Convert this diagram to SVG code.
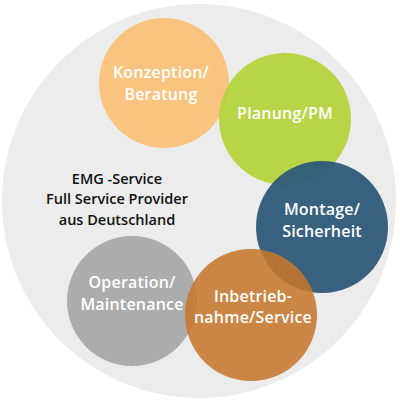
<svg xmlns="http://www.w3.org/2000/svg" width="400" height="400" viewBox="0 0 400 400">
<style>
.w{font-family:"Open Sans","Liberation Sans",sans-serif;font-weight:600;font-size:16px;fill:#fff;text-anchor:middle;letter-spacing:0.2px}
.b{font-family:"Open Sans","Liberation Sans",sans-serif;font-weight:600;font-size:14.5px;fill:#111;text-anchor:middle}
</style>
<rect width="400" height="400" fill="#fff"/>
<circle cx="199" cy="201" r="197" fill="#ececec"/>
<g id="center"><text class="b" x="117" y="184">EMG -Service</text><text class="b" x="117" y="204">Full Service Provider</text><text class="b" x="117" y="225">aus Deutschland</text></g>
<g id="konzeption"><circle cx="164" cy="83" r="65" fill="#f9c27a" opacity="0.95"/><text class="w" x="161" y="78">Konzeption/</text><text class="w" x="161" y="100">Beratung</text></g>
<g id="planung"><circle cx="285" cy="119" r="66" fill="#b3d335" opacity="0.9"/><text class="w" x="285" y="119">Planung/PM</text></g>
<g id="montage"><circle cx="322" cy="227" r="66" fill="#2d5a79" opacity="0.95"/><text class="w" x="322" y="215">Montage/</text><text class="w" x="322" y="237">Sicherheit</text></g>
<g id="operation"><circle cx="132" cy="301" r="65" fill="#a9a9a9" opacity="0.95"/><text class="w" x="132" y="288">Operation/</text><text class="w" x="132" y="310">Maintenance</text></g>
<g id="inbetrieb"><circle cx="251" cy="315" r="66" fill="#c6762c" opacity="0.88"/><text class="w" x="253" y="302">Inbetrieb-</text><text class="w" x="253" y="323">nahme/Service</text></g>
<g id="connectors"/>
</svg>
